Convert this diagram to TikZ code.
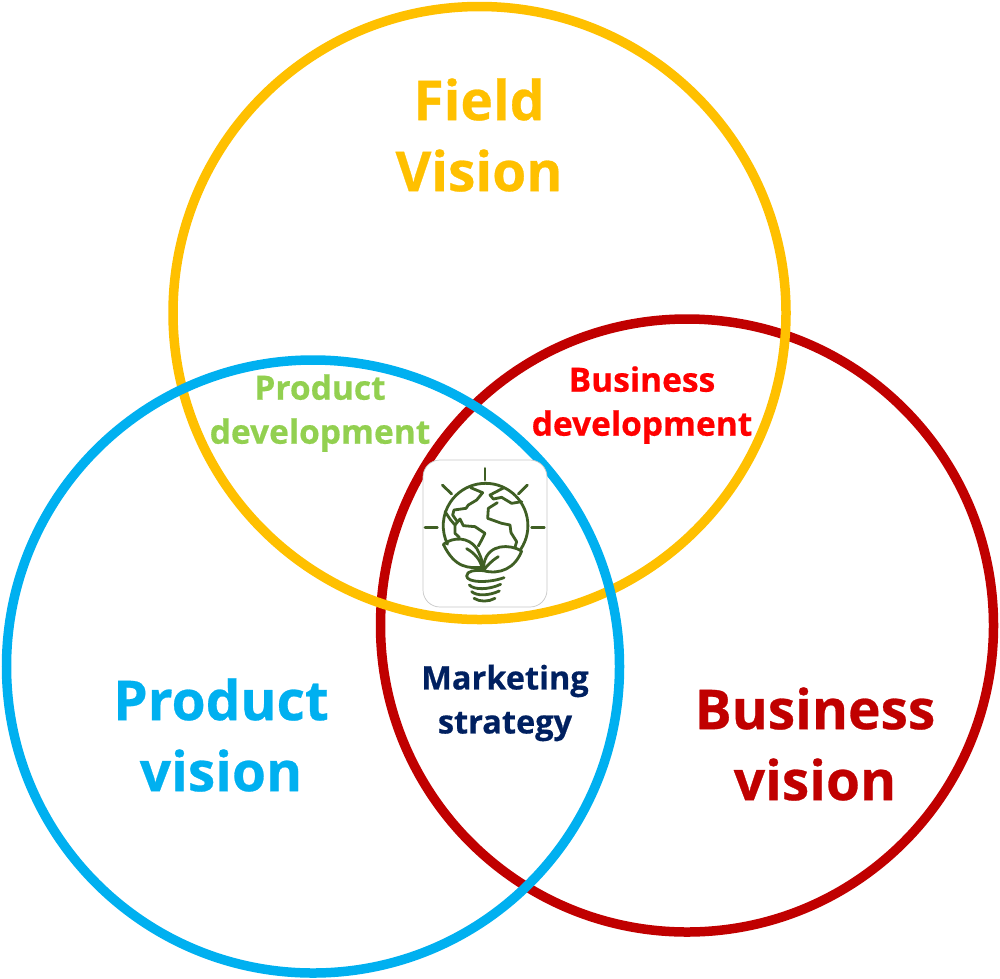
\documentclass[tikz,border=0pt]{standalone}
\usepackage{fontspec}
\setmainfont[BoldFeatures={FakeBold=0.5}]{Open Sans}
\definecolor{fieldc}{HTML}{FFC000}
\definecolor{prodc}{HTML}{00B0F0}
\definecolor{busc}{HTML}{C00000}
\definecolor{devg}{HTML}{92D050}
\definecolor{devr}{HTML}{FF0000}
\definecolor{mark}{HTML}{002060}
\definecolor{leafc}{HTML}{3F5F24}
\tikzset{
  ring/.style={circle,draw=#1,line width=9.5pt,minimum size=613pt,inner sep=0pt,outer sep=0pt},
  bigtxt/.style={text=#1,font=\fontsize{55}{71}\selectfont\bfseries,align=center,inner sep=0pt},
  smalltxt/.style={text=#1,font=\fontsize{33.5}{44}\selectfont\bfseries,align=center,inner sep=0pt},
  marktxt/.style={text=#1,font=\fontsize{32.5}{44}\selectfont\bfseries,align=center,inner sep=0pt},
  iconbox/.style={draw=black!22,line width=0.7pt,rounded corners=17pt,fill=white},
  ico/.style={draw=leafc,line width=2.8pt,line cap=round,line join=round}
}
\begin{document}
\begin{tikzpicture}[x=1pt,y=-1pt]
\useasboundingbox (0,0) rectangle (1000,978);
\node[ring=busc] (business) at (687,625.5) {};
\node[ring=fieldc] (field) at (479.5,313) {};
\node[ring=prodc] (product) at (313,666.5) {};
\draw[iconbox] (423,460) rectangle (547,607);
\begin{scope}[shift={(400,440)},x=0.3333pt,y=-0.3333pt]
 % rays
 \draw[ico] (255,85)--(255,120);
 \draw[ico] (127,135)--(155,162);
 \draw[ico] (382,135)--(355,162);
 \draw[ico] (75,262)--(112,262);
 \draw[ico] (395,262)--(433,262);
 % globe
 \draw[ico] (362,328) arc[start angle=-34,end angle=206,radius=42.33pt];
 % continents
 \draw[ico] (212,143)--(248,158)--(230,180)--(205,195)--(198,205)--(162,210)--(158,225)--(172,245);
 \draw[ico] (135,215)--(152,240)--(165,255)--(165,280)--(178,292);
 \draw[ico] (165,255)--(180,237)--(190,257)--(225,260)--(255,280)--(245,300)--(235,318);
 \draw[ico] (312,143)--(270,165)--(280,177)--(305,172)--(335,190)--(365,185);
 \draw[ico] (292,188)--(265,205)--(263,235)--(305,250)--(330,255)--(333,278)--(350,305)--(345,322);
 % leaves
 \draw[ico] (130,313) .. controls (160,290) and (205,290) .. (230,325) .. controls (240,345) and (248,360) .. (248,382)
   .. controls (205,385) and (165,385) .. (130,313);
 \draw[ico] (200,326) .. controls (225,340) and (240,360) .. (246,380);
 \draw[ico] (365,333) .. controls (330,312) and (265,310) .. (252,370) -- (250,392)
   .. controls (300,405) and (345,385) .. (365,333);
 \draw[ico] (295,350) .. controls (275,362) and (260,378) .. (250,392);
 % base
 \draw[ico] (250,392) .. controls (225,390) and (200,392) .. (200,408) .. controls (200,428) and (265,430) .. (312,413);
 \draw[ico] (208,435) .. controls (222,450) and (265,450) .. (302,433);
 \draw[ico] (215,455) .. controls (230,468) and (265,468) .. (298,453);
 \draw[ico] (222,475) .. controls (240,486) and (265,486) .. (285,475);
\end{scope}
\node[bigtxt=fieldc] (fieldlabel) at (479,135) {Field\\Vision};
\node[bigtxt=prodc] (productlabel) at (221,735) {Product\\vision};
\node[bigtxt=busc] (businesslabel) at (815,744) {Business\\vision};
\node[smalltxt=devg] (pdev) at (320,413) {Product\\development};
\node[smalltxt=devr] (bdev) at (642,405) {Business\\development};
\node[marktxt=mark] (mkt) at (505,703) {Marketing\\strategy};
\end{tikzpicture}
\end{document}
